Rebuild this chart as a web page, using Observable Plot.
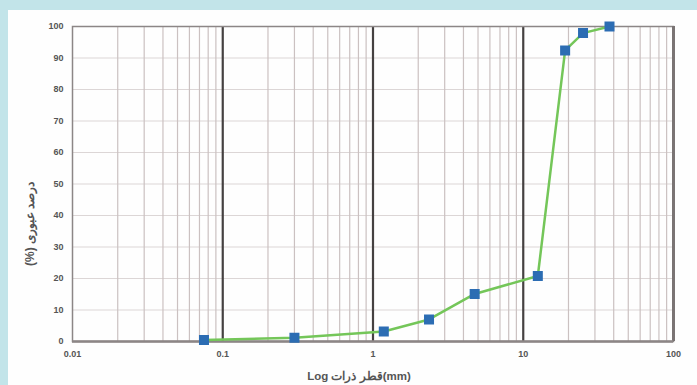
<!DOCTYPE html>
<html>
<head>
<meta charset="utf-8">
<script src="https://cdn.jsdelivr.net/npm/d3@7"></script>
<script src="https://cdn.jsdelivr.net/npm/@observablehq/plot@0.6"></script>
<style>
  html, body { margin: 0; padding: 0; background: #c2e4e9; width: 697px; height: 385px; overflow: hidden; }
  #panel { position: absolute; left: 8px; top: 10px; width: 689px; height: 375px; background: #fefefe; }
  svg { display: block; }
  .lbl text { direction: ltr; unicode-bidi: embed; }
</style>
</head>
<body>
<div id="panel"></div>
<script>
// Grain size (mm) and percent passing
const sizes   = [0.075, 0.30, 1.18, 2.36, 4.75, 12.5, 19, 25, 37.5];
const passing = [0.5,   1.2,  3.2,  7.0,  15.1, 20.8, 92.4, 97.9, 100];
const xTicks = [0.01, 0.1, 1, 10, 100];
const xTickLabels = ["0.01", "0.1", "1", "10", "100"];
const yTicks = [0, 10, 20, 30, 40, 50, 60, 70, 80, 90, 100];
const decades = [0.1, 1, 10];
const xLabel = "\u2066Log \u2067قطر ذرات\u2069(mm)\u2069";
const yLabel = "\u2066(%) \u2067درصد عبوری\u2069\u2069";

const data = sizes.map((s, i) => ({size: s, pass: passing[i]}));
const minor = d3.scaleLog().domain([0.01, 100]).ticks().filter(v => !xTicks.some(t => Math.abs(t - v) < 1e-9));

const chart = Plot.plot({
  width: 689,
  height: 375,
  marginLeft: 64,
  marginRight: 24,
  marginTop: 16,
  marginBottom: 44,
  style: {background: "transparent", fontFamily: "Liberation Sans, Arial, sans-serif"},
  x: {type: "log", domain: [0.01, 100], ticks: xTicks, tickFormat: (d) => xTickLabels[xTicks.indexOf(d)], tickSize: 0, label: null},
  y: {domain: [0, 100], ticks: yTicks, tickSize: 0, label: null},
  marks: [
    Plot.ruleY(yTicks, {stroke: "#dcd6d6", strokeWidth: 1}),
    Plot.ruleX(minor, {stroke: "#cbc1c1", strokeWidth: 1.2}),
    Plot.ruleX(decades, {stroke: "#454141", strokeWidth: 2.2}),
    Plot.frame({stroke: "#8c8686", strokeWidth: 1.5}),
    Plot.ruleX([100], {stroke: "#7a7474", strokeWidth: 3}),
    Plot.ruleY([0], {stroke: "#8c8686", strokeWidth: 2.5}),
    Plot.axisX({ticks: xTicks, tickFormat: (d) => xTickLabels[xTicks.indexOf(d)], tickSize: 0, tickPadding: 9, fontSize: 9, fontWeight: "bold", fill: "#555", label: null}),
    Plot.axisY({ticks: yTicks, tickSize: 0, tickPadding: 9, fontSize: 9, fontWeight: "bold", fill: "#555", label: null}),
    Plot.line(data, {x: "size", y: "pass", stroke: "#74c659", strokeWidth: 2.5}),
    Plot.dot(data, {x: "size", y: "pass", symbol: "square", r: 4.8, fill: "#2c6db3", stroke: "#2c6db3"}),
    Plot.text([xLabel], {frameAnchor: "bottom", dy: 38, dx: -14, fontSize: 11.5, fontWeight: "bold", fill: "#555", className: "lbl"}),
    Plot.text([yLabel], {frameAnchor: "left", dx: -42, dy: 82, rotate: -90, textAnchor: "start", fontSize: 12, fontWeight: "bold", fill: "#555", className: "lbl"})
  ]
});
document.getElementById("panel").appendChild(chart);
</script>
</body>
</html>
